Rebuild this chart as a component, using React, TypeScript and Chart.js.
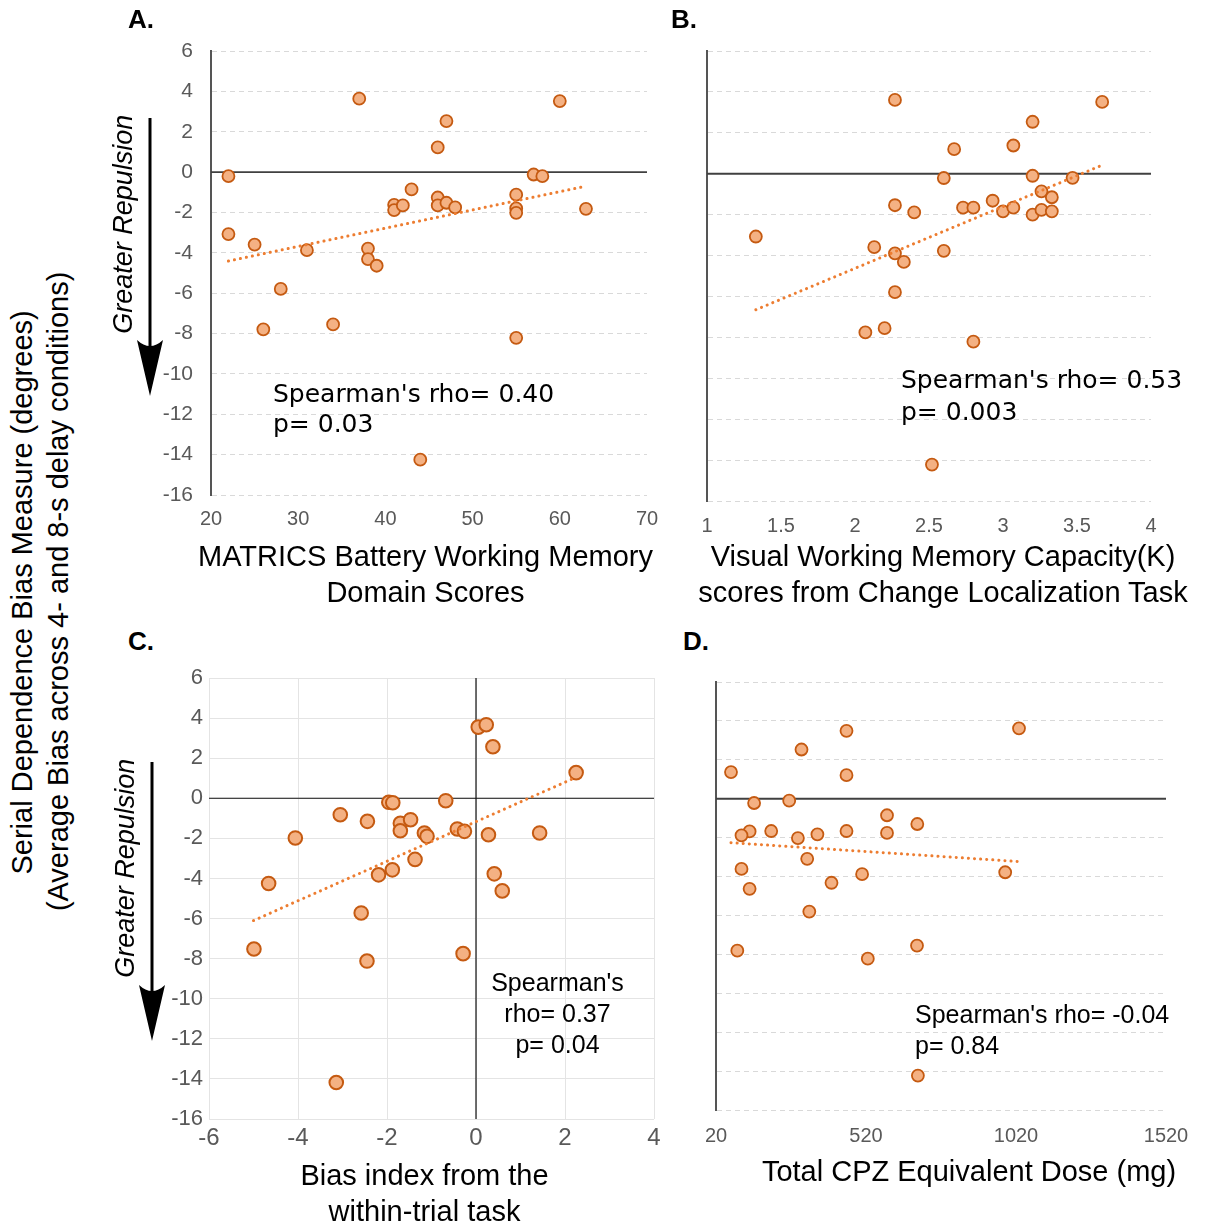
import React, { useEffect, useRef } from "react";
import { Chart, registerables } from "chart.js";

Chart.register(...registerables);

const SANS = "'Liberation Sans', Arial, sans-serif";
const VERD = "'DejaVu Sans', Verdana, sans-serif";

// ---------- shared ----------
const Y_TICKS = [6, 4, 2, 0, -2, -4, -6, -8, -10, -12, -14, -16];

// ---------- Panel A: MATRICS WM domain score vs serial-dependence bias ----------
const A_X_TICKS = [20, 30, 40, 50, 60, 70];
const A_MATRICS = [37, 60, 47, 46, 22, 57, 58, 43, 46, 46, 47, 48, 41, 41, 42, 55, 55, 55, 63, 22, 25, 31, 38, 38, 39, 28, 26, 34, 55, 44];
const A_BIAS = [3.64, 3.52, 2.53, 1.22, -0.2, -0.12, -0.2, -0.86, -1.26, -1.65, -1.52, -1.75, -1.62, -1.88, -1.65, -1.12, -1.8, -2.02, -1.82, -3.07, -3.59, -3.87, -3.79, -4.31, -4.64, -5.79, -7.79, -7.55, -8.21, -14.25];
const A_TREND_X = [22, 63];
const A_TREND_Y = [-4.41, -0.7];

// ---------- Panel B: visual WM capacity K ----------
const B_X_TICKS = [1, 1.5, 2, 2.5, 3, 3.5, 4];
const B_K = [2.27, 3.67, 3.2, 3.07, 2.67, 2.6, 3.2, 3.47, 3.26, 3.33, 2.93, 2.73, 2.8, 3.0, 3.07, 3.2, 3.26, 3.33, 2.27, 2.4, 1.33, 2.13, 2.27, 2.33, 2.6, 2.27, 2.07, 2.2, 2.8, 2.52];
const B_BIAS = [3.61, 3.51, 2.54, 1.38, 1.2, -0.21, -0.1, -0.2, -0.86, -1.15, -1.32, -1.66, -1.66, -1.84, -1.66, -2.0, -1.77, -1.84, -1.54, -1.89, -3.07, -3.59, -3.89, -4.31, -3.77, -5.79, -7.76, -7.55, -8.21, -14.22];
const B_TREND_X = [1.33, 3.67];
const B_TREND_Y = [-6.65, 0.42];

// ---------- Panel C: within-trial bias index ----------
const C_X_TICKS = [-6, -4, -2, 0, 2, 4];
const C_INDEX = [0.05, 0.23, 0.38, 2.25, -1.96, -1.87, -0.68, -3.05, -2.44, -4.06, -1.7, -1.7, -1.47, -1.16, -1.1, -0.42, -0.26, 0.28, 1.43, -1.37, -1.88, -2.19, -4.66, 0.41, 0.59, -2.58, -4.99, -2.45, -0.29, -3.14];
const C_BIAS = [3.55, 3.67, 2.57, 1.28, -0.2, -0.22, -0.12, -0.82, -1.15, -1.98, -1.25, -1.62, -1.07, -1.73, -1.9, -1.53, -1.65, -1.82, -1.73, -3.05, -3.57, -3.82, -4.25, -3.77, -4.62, -5.72, -7.52, -8.12, -7.75, -14.18];
const C_TREND_X = [-5.0, 2.25];
const C_TREND_Y = [-6.1, 1.05];

// ---------- Panel D: CPZ equivalent dose ----------
const D_X_TICKS = [20, 520, 1020, 1520];
const D_CPZ = [70, 305, 455, 455, 1030, 147, 264, 590, 691, 132, 105, 204, 293, 358, 455, 590, 324, 105, 132, 405, 507, 984, 331, 91, 526, 690, 693];
const D_BIAS = [1.37, 2.53, 3.49, 1.21, 3.62, -0.22, -0.1, -0.85, -1.3, -1.68, -1.88, -1.66, -2.02, -1.83, -1.66, -1.76, -3.09, -3.61, -4.63, -4.32, -3.88, -3.78, -5.8, -7.81, -8.22, -7.55, -14.23];
const D_TREND_X = [70, 1030];
const D_TREND_Y = [-2.26, -3.23];

const FILL = "#F4B183";
const EDGE = "#C55A11";
const TREND = "#ED7D31";
const TICK_COLOR = "#595959";

type PanelCfg = {
  left: number; top: number; width: number; height: number;
  padTop: number; padRight: number; yW: number; xH: number;
  xs: number[]; ys: number[]; tx: number[]; ty: number[];
  xTicks: number[]; xMin: number; xMax: number;
  showY: boolean; yFont: number; xFont: number; yPad: number; xPad: number;
  style: "dashed" | "grid"; r: number; bw: number;
  zeroColor: string; zeroWidth: number; vertical0: boolean;
};

const refLinesPlugin = {
  id: "refLines",
  beforeDatasetsDraw(chart: any, _args: any, opts: any) {
    const { ctx, chartArea, scales } = chart;
    const xs = scales.x;
    const ys = scales.y;
    ctx.save();
    ctx.setLineDash([]);
    ctx.strokeStyle = opts.color;
    ctx.lineWidth = opts.width;
    const y0 = ys.getPixelForValue(0);
    ctx.beginPath();
    ctx.moveTo(chartArea.left, y0);
    ctx.lineTo(chartArea.right, y0);
    ctx.stroke();
    if (opts.vertical) {
      const x0 = xs.getPixelForValue(0);
      ctx.beginPath();
      ctx.moveTo(x0, chartArea.top);
      ctx.lineTo(x0, chartArea.bottom);
      ctx.stroke();
    }
    ctx.restore();
  },
};

function Panel({ cfg }: { cfg: PanelCfg }) {
  const ref = useRef<HTMLCanvasElement | null>(null);
  useEffect(() => {
    if (!ref.current) return;
    const pts = cfg.xs.map((x, i) => ({ x, y: cfg.ys[i] }));
    const trend = cfg.tx.map((x, i) => ({ x, y: cfg.ty[i] }));
    const dashed = cfg.style === "dashed";
    const chart = new Chart(ref.current, {
      type: "scatter",
      data: {
        datasets: [
          {
            data: trend,
            showLine: true,
            borderColor: TREND,
            borderWidth: 3,
            borderDash: [0.1, 6],
            borderCapStyle: "round",
            pointRadius: 0,
            fill: false,
          } as any,
          {
            data: pts,
            pointRadius: cfg.r,
            pointBorderWidth: cfg.bw,
            pointBackgroundColor: FILL,
            pointBorderColor: EDGE,
            backgroundColor: FILL,
            borderColor: EDGE,
            borderWidth: cfg.bw,
          } as any,
        ],
      },
      options: {
        responsive: false,
        animation: false,
        events: [],
        layout: { padding: { top: cfg.padTop, right: cfg.padRight, left: 0, bottom: 0 } },
        plugins: {
          legend: { display: false },
          tooltip: { enabled: false },
          refLines: { color: cfg.zeroColor, width: cfg.zeroWidth, vertical: cfg.vertical0 },
        } as any,
        scales: {
          x: {
            type: "linear",
            min: cfg.xMin,
            max: cfg.xMax,
            afterBuildTicks: (s: any) => {
              s.ticks = cfg.xTicks.map((v) => ({ value: v }));
            },
            afterFit: (s: any) => {
              s.height = cfg.xH;
              s.paddingLeft = 0;
              s.paddingRight = 0;
            },
            ticks: {
              autoSkip: false,
              maxRotation: 0,
              color: TICK_COLOR,
              padding: cfg.xPad,
              font: { family: SANS, size: cfg.xFont },
              callback: (v: any) => String(v),
            },
            grid: {
              display: !dashed,
              drawTicks: false,
              color: "#e4e4e4",
              lineWidth: 1,
            },
            border: { display: false },
          },
          y: {
            type: "linear",
            min: -16,
            max: 6,
            afterBuildTicks: (s: any) => {
              s.ticks = Y_TICKS.map((v) => ({ value: v }));
            },
            afterFit: (s: any) => {
              s.width = cfg.yW;
              s.paddingTop = 0;
              s.paddingBottom = 0;
            },
            ticks: {
              display: cfg.showY,
              color: TICK_COLOR,
              padding: cfg.yPad,
              font: { family: SANS, size: cfg.yFont },
              callback: (v: any) => String(v),
            },
            grid: {
              display: true,
              drawTicks: false,
              color: dashed ? "#d9d9d9" : "#e4e4e4",
              lineWidth: 1,
            },
            border: dashed
              ? { display: true, color: "#555555", width: 2, dash: [5, 4] }
              : { display: false },
          },
        },
      } as any,
      plugins: [refLinesPlugin as any],
    });
    return () => chart.destroy();
  }, [cfg]);
  return (
    <canvas
      ref={ref}
      width={cfg.width}
      height={cfg.height}
      style={{ position: "absolute", left: cfg.left, top: cfg.top, width: cfg.width, height: cfg.height }}
    />
  );
}

const PANEL_A: PanelCfg = {
  left: 140, top: 30, width: 530, height: 520, padTop: 21, padRight: 23, yW: 71, xH: 55,
  xs: A_MATRICS, ys: A_BIAS, tx: A_TREND_X, ty: A_TREND_Y, xTicks: A_X_TICKS, xMin: 20, xMax: 70,
  showY: true, yFont: 21, xFont: 20, yPad: 18, xPad: 12, style: "dashed", r: 6, bw: 1.8,
  zeroColor: "#404040", zeroWidth: 1.6, vertical0: false,
};
const PANEL_B: PanelCfg = {
  left: 680, top: 30, width: 495, height: 530, padTop: 21, padRight: 24, yW: 27, xH: 59,
  xs: B_K, ys: B_BIAS, tx: B_TREND_X, ty: B_TREND_Y, xTicks: B_X_TICKS, xMin: 1, xMax: 4,
  showY: false, yFont: 21, xFont: 20, yPad: 18, xPad: 13, style: "dashed", r: 6, bw: 1.8,
  zeroColor: "#404040", zeroWidth: 2, vertical0: false,
};
const PANEL_C: PanelCfg = {
  left: 130, top: 660, width: 540, height: 520, padTop: 18, padRight: 16, yW: 79, xH: 61,
  xs: C_INDEX, ys: C_BIAS, tx: C_TREND_X, ty: C_TREND_Y, xTicks: C_X_TICKS, xMin: -6, xMax: 4,
  showY: true, yFont: 22, xFont: 24, yPad: 6, xPad: 5, style: "grid", r: 6.8, bw: 2,
  zeroColor: "#111111", zeroWidth: 1.2, vertical0: true,
};
const PANEL_D: PanelCfg = {
  left: 690, top: 660, width: 500, height: 520, padTop: 22, padRight: 24, yW: 26, xH: 70,
  xs: D_CPZ, ys: D_BIAS, tx: D_TREND_X, ty: D_TREND_Y, xTicks: D_X_TICKS, xMin: 20, xMax: 1520,
  showY: false, yFont: 21, xFont: 20, yPad: 18, xPad: 14, style: "dashed", r: 6, bw: 1.8,
  zeroColor: "#404040", zeroWidth: 1.8, vertical0: false,
};

// text placed by baseline
function TextAt(props: {
  x: number; base: number; text: string; size: number; family: string;
  align?: "left" | "center"; weight?: number; italic?: boolean; color?: string;
}) {
  const { x, base, text, size, family, align = "left", weight = 400, italic = false, color = "#000" } = props;
  const lh = size * 1.2;
  const top = base - 0.946 * size;
  const w = 700;
  return (
    <div
      style={{
        position: "absolute",
        top,
        left: align === "center" ? x - w / 2 : x,
        width: align === "center" ? w : undefined,
        textAlign: align,
        whiteSpace: "nowrap",
        fontFamily: family,
        fontSize: size,
        lineHeight: `${lh}px`,
        fontWeight: weight,
        fontStyle: italic ? "italic" : "normal",
        color,
      }}
    >
      {text}
    </div>
  );
}

// rotated (-90deg) text centred at (cx, cy)
function VText(props: { cx: number; cy: number; text: string; size: number; family: string; italic?: boolean }) {
  const { cx, cy, text, size, family, italic = false } = props;
  const w = 800;
  const lh = size * 1.2;
  return (
    <div
      style={{
        position: "absolute",
        left: cx - w / 2,
        top: cy - lh / 2,
        width: w,
        height: lh,
        lineHeight: `${lh}px`,
        textAlign: "center",
        whiteSpace: "nowrap",
        fontFamily: family,
        fontSize: size,
        fontStyle: italic ? "italic" : "normal",
        color: "#000",
        transform: "rotate(-90deg)",
        transformOrigin: "50% 50%",
      }}
    >
      {text}
    </div>
  );
}

export default function App() {
  const T = 29;
  return (
    <div style={{ position: "absolute", left: 0, top: 0, width: 1205, height: 1226, background: "#fff", overflow: "hidden" }}>
      <Panel cfg={PANEL_A} />
      <Panel cfg={PANEL_B} />
      <Panel cfg={PANEL_C} />
      <Panel cfg={PANEL_D} />

      {/* panel letters */}
      <TextAt x={128} base={29} text="A." size={26} family={SANS} weight={700} />
      <TextAt x={671} base={29} text="B." size={26} family={SANS} weight={700} />
      <TextAt x={128} base={651} text="C." size={26} family={SANS} weight={700} />
      <TextAt x={683} base={651} text="D." size={26} family={SANS} weight={700} />

      {/* x-axis titles */}
      <TextAt x={425.5} base={566} text="MATRICS Battery Working Memory" size={T} family={SANS} align="center" />
      <TextAt x={425.5} base={602} text="Domain Scores" size={T} family={SANS} align="center" />
      <TextAt x={943} base={566} text="Visual Working Memory Capacity(K)" size={T} family={SANS} align="center" />
      <TextAt x={943} base={602} text="scores from Change Localization Task" size={T} family={SANS} align="center" />
      <TextAt x={424.5} base={1185} text="Bias index from the" size={T} family={SANS} align="center" />
      <TextAt x={424.5} base={1221} text="within-trial task" size={T} family={SANS} align="center" />
      <TextAt x={969} base={1181} text="Total CPZ Equivalent Dose (mg)" size={T} family={SANS} align="center" />

      {/* statistics */}
      <TextAt x={273} base={402.5} text="Spearman's rho= 0.40" size={25} family={VERD} />
      <TextAt x={273} base={432.5} text="p= 0.03" size={25} family={VERD} />
      <TextAt x={901} base={389} text="Spearman's rho= 0.53" size={25} family={VERD} />
      <TextAt x={901} base={421} text="p= 0.003" size={25} family={VERD} />
      <TextAt x={557.5} base={990.5} text="Spearman's" size={25} family={SANS} align="center" />
      <TextAt x={557.5} base={1022} text="rho= 0.37" size={25} family={SANS} align="center" />
      <TextAt x={557.5} base={1053} text="p= 0.04" size={25} family={SANS} align="center" />
      <TextAt x={915} base={1022.5} text="Spearman's rho= -0.04" size={25} family={SANS} />
      <TextAt x={915} base={1054} text="p= 0.84" size={25} family={SANS} />

      {/* shared y-axis title */}
      <VText cx={22} cy={592} text="Serial Dependence Bias Measure (degrees)" size={T} family={SANS} />
      <VText cx={58} cy={591} text="(Average Bias across 4- and 8-s delay conditions)" size={T} family={SANS} />

      {/* Greater Repulsion labels */}
      <VText cx={123} cy={224} text="Greater Repulsion" size={27} family={SANS} italic />
      <VText cx={125} cy={868} text="Greater Repulsion" size={27} family={SANS} italic />

      <svg
        width={1205}
        height={1226}
        style={{ position: "absolute", left: 0, top: 0, pointerEvents: "none" }}
      >
        <line x1={150} y1={118} x2={150} y2={360} stroke="#000" strokeWidth={3} />
        <path d="M150,396 L137,340 Q150,352 163,340 Z" fill="#000" />
        <line x1={152} y1={762} x2={152} y2={1005} stroke="#000" strokeWidth={3} />
        <path d="M152,1041 L139,985 Q152,997 165,985 Z" fill="#000" />
      </svg>
    </div>
  );
}
